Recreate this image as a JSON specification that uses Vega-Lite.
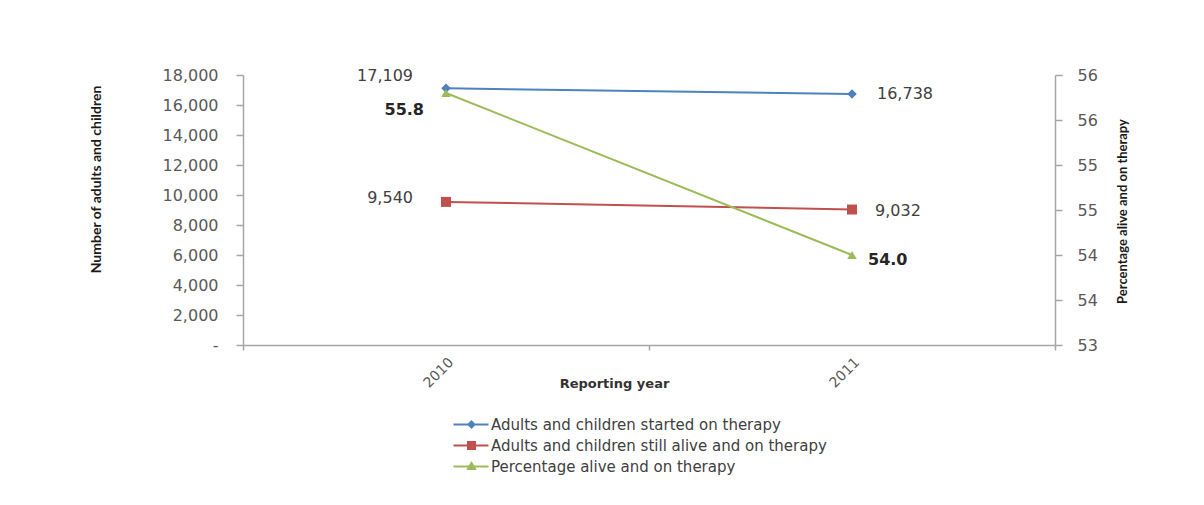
{
  "$schema": "https://vega.github.io/schema/vega-lite/v6.json",
  "width": 812,
  "height": 270,
  "autosize": {"type": "none"},
  "padding": {"left": 243, "top": 75, "right": 149, "bottom": 160},
  "background": "white",
  "config": {
    "view": {"stroke": null},
    "axis": {
      "grid": false,
      "domainColor": "#a6a6a6",
      "domainWidth": 1.5,
      "tickColor": "#a6a6a6",
      "tickWidth": 1.5,
      "tickSize": 7,
      "labelFont": "DejaVu Sans",
      "labelFontSize": 16,
      "labelColor": "#595959"
    }
  },
  "data": {
    "values": [
      {"year": "2010", "series": "Adults and children started on therapy", "measure": "started", "value": 17109},
      {"year": "2011", "series": "Adults and children started on therapy", "measure": "started", "value": 16738},
      {"year": "2010", "series": "Adults and children still alive and on therapy", "measure": "alive", "value": 9540},
      {"year": "2011", "series": "Adults and children still alive and on therapy", "measure": "alive", "value": 9032},
      {"year": "2010", "series": "Percentage alive and on therapy", "measure": "percent", "value": 55.8},
      {"year": "2011", "series": "Percentage alive and on therapy", "measure": "percent", "value": 54.0}
    ]
  },
  "encoding": {
    "x": {
      "field": "year",
      "type": "ordinal",
      "scale": {"type": "band", "paddingInner": 0, "paddingOuter": 0},
      "axis": {
        "title": "Reporting year",
        "titleFont": "DejaVu Sans",
        "titleFontSize": 13,
        "titleFontWeight": "bold",
        "titleColor": "#333333",
        "titleX": 371,
        "titleY": 38,
        "titleBaseline": "middle",
        "labelAngle": -45,
        "labelFontSize": 14,
        "labelPadding": 5,
        "tickBand": "extent",
        "tickSize": 5
      }
    },
    "color": {
      "field": "series",
      "type": "nominal",
      "scale": {
        "domain": [
          "Adults and children started on therapy",
          "Adults and children still alive and on therapy",
          "Percentage alive and on therapy"
        ],
        "range": ["#4f81bd", "#c0504d", "#9bbb59"]
      },
      "legend": {
        "title": null,
        "orient": "none",
        "legendX": 221,
        "legendY": 342,
        "direction": "vertical",
        "padding": 0,
        "symbolSize": 100,
        "labelFont": "DejaVu Sans",
        "labelFontSize": 15,
        "labelColor": "#404040",
        "labelOffset": 12,
        "rowPadding": 5,
        "labelLimit": 600,
        "encode": {
          "symbols": {
            "update": {
              "shape": {"signal": "datum.value === 'Adults and children started on therapy' ? 'M-3.6,0H3.4M0,-0.6L0.6,0L0,0.6L-0.6,0Z' : datum.value === 'Adults and children still alive and on therapy' ? 'M-3.6,0H3.4M-0.7,-0.7H0.7V0.7H-0.7Z' : 'M-3.6,0H3.4M0,-0.7L0.7,0.5H-0.7Z'"},
              "fill": {"signal": "scale('color', datum.value)"},
              "stroke": {"signal": "scale('color', datum.value)"},
              "strokeWidth": {"value": 2},
              "opacity": {"value": 1}
            }
          }
        }
      }
    }
  },
  "layer": [
    {
      "transform": [{"filter": "datum.measure !== 'percent'"}],
      "encoding": {
        "y": {
          "field": "value",
          "type": "quantitative",
          "scale": {"domain": [0, 18000], "nice": false, "zero": true},
          "axis": {
            "title": "Number of adults and children",
            "titleFont": "Lato",
            "titleFontSize": 14,
            "titleFontWeight": "bold",
            "titleColor": "#1a1a1a",
            "titleX": -147,
            "titleY": 104,
            "titleAngle": 270,
            "titleAlign": "center",
            "titleBaseline": "middle",
            "values": [0, 2000, 4000, 6000, 8000, 10000, 12000, 14000, 16000, 18000],
            "labelExpr": "datum.value === 0 ? '-\u2007' : format(datum.value, ',')",
            "labelPadding": 18
          }
        }
      },
      "layer": [
        {"mark": {"type": "line", "strokeWidth": 2}},
        {
          "transform": [{"filter": "datum.measure === 'started'"}],
          "mark": {"type": "point", "shape": "diamond", "filled": true, "opacity": 1, "size": 90}
        },
        {
          "transform": [{"filter": "datum.measure === 'alive'"}],
          "mark": {"type": "point", "shape": "square", "filled": true, "opacity": 1, "size": 100}
        },
        {
          "transform": [{"filter": "datum.measure === 'started' && datum.year === '2010'"}],
          "mark": {"type": "text", "align": "right", "baseline": "middle", "dx": -33, "dy": -12, "font": "DejaVu Sans", "fontSize": 16},
          "encoding": {"text": {"field": "value", "type": "quantitative", "format": ","}, "color": {"value": "#404040"}}
        },
        {
          "transform": [{"filter": "datum.measure === 'started' && datum.year === '2011'"}],
          "mark": {"type": "text", "align": "left", "baseline": "middle", "dx": 25, "dy": 0, "font": "DejaVu Sans", "fontSize": 16},
          "encoding": {"text": {"field": "value", "type": "quantitative", "format": ","}, "color": {"value": "#404040"}}
        },
        {
          "transform": [{"filter": "datum.measure === 'alive' && datum.year === '2010'"}],
          "mark": {"type": "text", "align": "right", "baseline": "middle", "dx": -33, "dy": -4, "font": "DejaVu Sans", "fontSize": 16},
          "encoding": {"text": {"field": "value", "type": "quantitative", "format": ","}, "color": {"value": "#404040"}}
        },
        {
          "transform": [{"filter": "datum.measure === 'alive' && datum.year === '2011'"}],
          "mark": {"type": "text", "align": "left", "baseline": "middle", "dx": 23, "dy": 1, "font": "DejaVu Sans", "fontSize": 16},
          "encoding": {"text": {"field": "value", "type": "quantitative", "format": ","}, "color": {"value": "#404040"}}
        }
      ]
    },
    {
      "transform": [{"filter": "datum.measure === 'percent'"}],
      "encoding": {
        "y": {
          "field": "value",
          "type": "quantitative",
          "scale": {"domain": [53, 56], "nice": false, "zero": false},
          "axis": {
            "orient": "right",
            "title": "Percentage alive and on therapy",
            "titleFont": "Lato",
            "titleFontSize": 13,
            "titleFontWeight": "bold",
            "titleColor": "#1a1a1a",
            "titleX": 67,
            "titleY": 136,
            "titleAngle": 270,
            "titleAlign": "center",
            "titleBaseline": "middle",
            "values": [53, 53.5, 54, 54.5, 55, 55.5, 56],
            "format": ".0f",
            "labelPadding": 15
          }
        }
      },
      "layer": [
        {"mark": {"type": "line", "strokeWidth": 2}},
        {"mark": {"type": "point", "shape": "triangle-up", "filled": true, "opacity": 1, "size": 90}},
        {
          "transform": [{"filter": "datum.year === '2010'"}],
          "mark": {"type": "text", "align": "right", "baseline": "middle", "dx": -22, "dy": 17, "font": "DejaVu Sans", "fontSize": 16, "fontWeight": "bold"},
          "encoding": {"text": {"field": "value", "type": "quantitative", "format": ".1f"}, "color": {"value": "#262626"}}
        },
        {
          "transform": [{"filter": "datum.year === '2011'"}],
          "mark": {"type": "text", "align": "left", "baseline": "middle", "dx": 16, "dy": 5, "font": "DejaVu Sans", "fontSize": 16, "fontWeight": "bold"},
          "encoding": {"text": {"field": "value", "type": "quantitative", "format": ".1f"}, "color": {"value": "#262626"}}
        }
      ]
    }
  ],
  "resolve": {"scale": {"y": "independent"}}
}
